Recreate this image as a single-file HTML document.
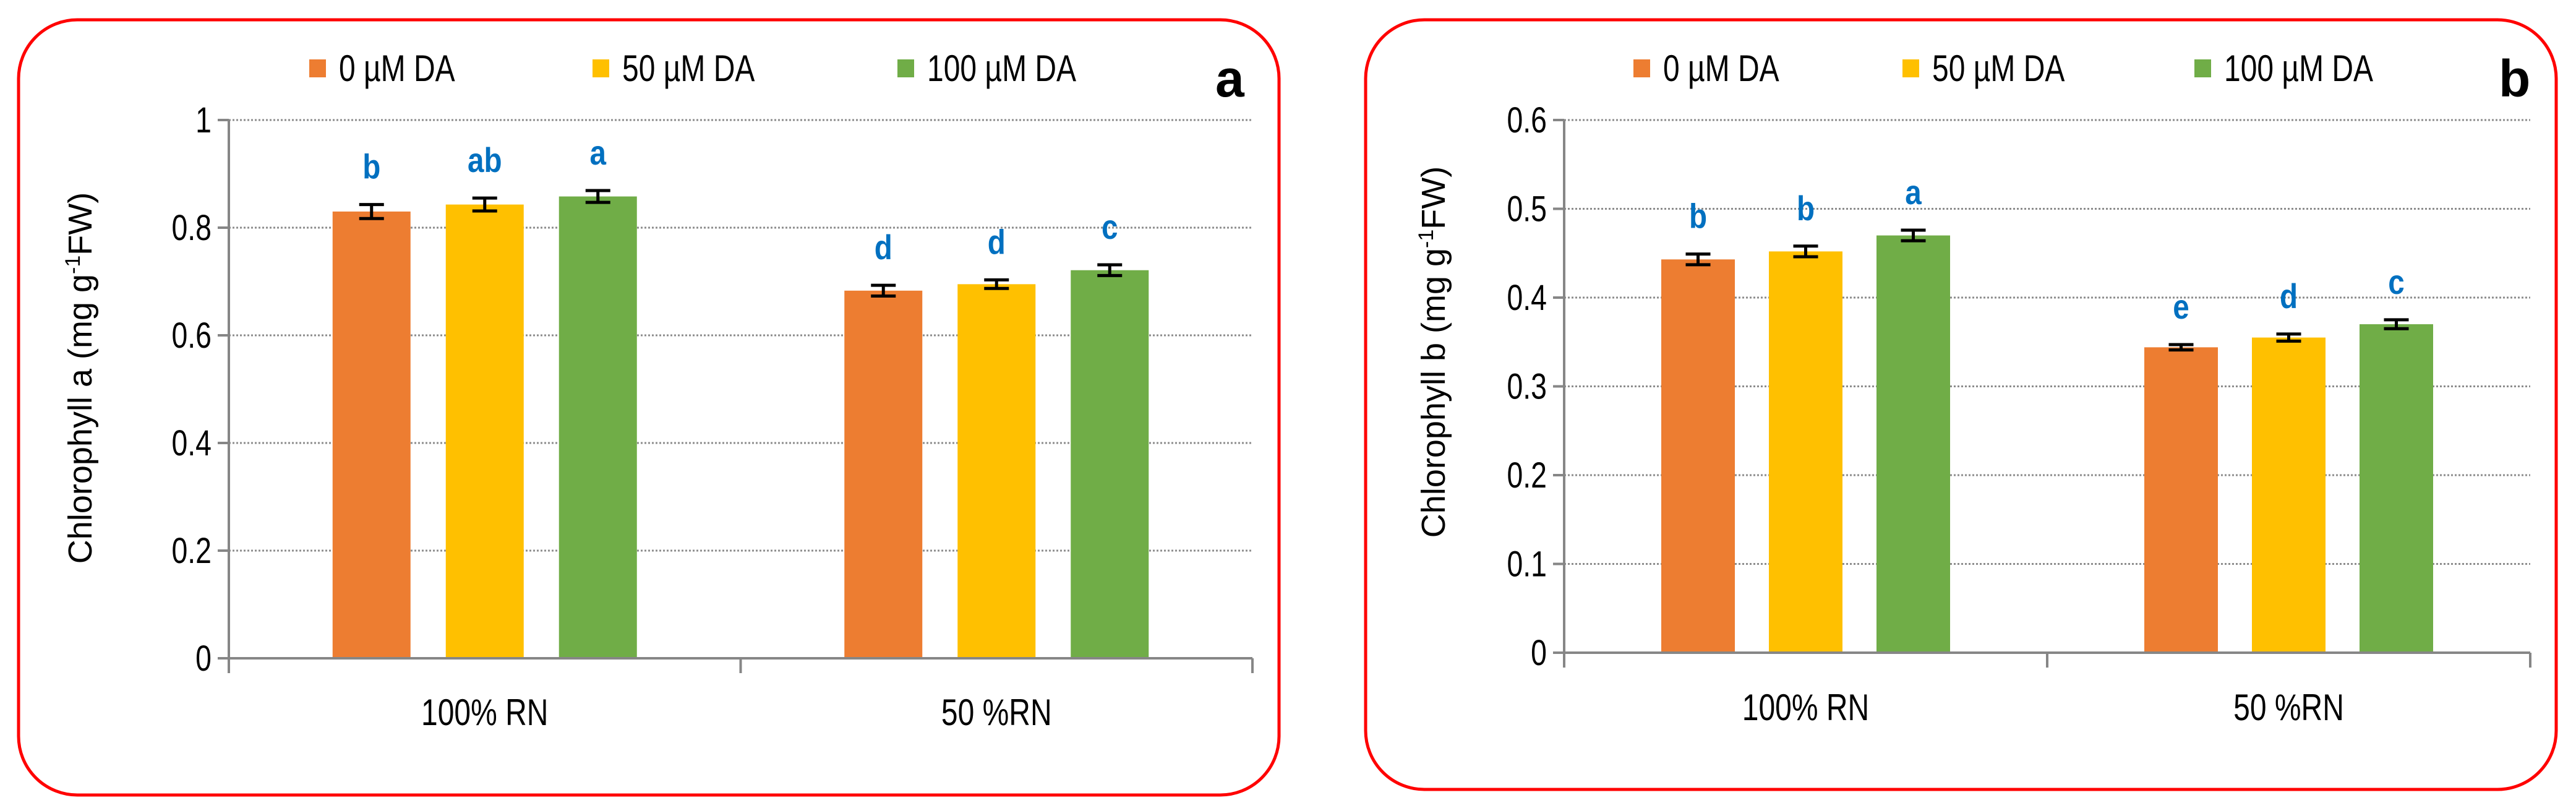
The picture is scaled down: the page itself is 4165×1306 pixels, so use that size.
<!DOCTYPE html>
<html><head><meta charset="utf-8"><style>
html,body{margin:0;padding:0;background:#fff}
svg{display:block}
text{font-family:"Liberation Sans",sans-serif}
</style></head><body>
<svg id="fig" xmlns="http://www.w3.org/2000/svg" width="4165" height="1306" viewBox="0 0 4165 1306">
<g id="pa"></g>
<g id="pb"></g>
</svg>
<script>
const categories = ["100% RN", "50 %RN"];
const seriesNames = ["0 µM DA", "50 µM DA", "100 µM DA"];
const colors = ["#ED7D31", "#FFC000", "#70AD47"];
const chlA = [[0.830, 0.843, 0.858], [0.683, 0.695, 0.721]];
const chlAErr = [[0.013, 0.012, 0.011], [0.010, 0.008, 0.010]];
const chlALetters = [["b", "ab", "a"], ["d", "d", "c"]];
const chlATicks = ["0", "0.2", "0.4", "0.6", "0.8", "1"];
const chlB = [[0.443, 0.452, 0.470], [0.344, 0.355, 0.370]];
const chlBErr = [[0.006, 0.006, 0.006], [0.003, 0.004, 0.005]];
const chlBLetters = [["b", "b", "a"], ["e", "d", "c"]];
const chlBTicks = ["0", "0.1", "0.2", "0.3", "0.4", "0.5", "0.6"];

const NS = "http://www.w3.org/2000/svg";
function mk(parent, tag, attrs, txt) {
  const e = document.createElementNS(NS, tag);
  for (const k in attrs) e.setAttribute(k, attrs[k]);
  if (txt !== undefined) e.textContent = txt;
  parent.appendChild(e);
  return e;
}
function ntext(parent, x, y, attrs, txt, sx) {
  attrs.x = 0; attrs.y = 0;
  attrs.transform = `translate(${x},${y}) scale(${sx || 0.8},1)`;
  return mk(parent, "text", attrs, txt);
}

function drawPanel(g, cfg) {
  const b = mk(g, "rect", {x: cfg.bx0, y: cfg.by0, width: cfg.bx1 - cfg.bx0, height: cfg.by1 - cfg.by0, rx: 95, ry: 95, fill: "#fff", stroke: "#FF0000", "stroke-width": 5});
  
  
  const x0 = cfg.x0, x1 = cfg.x1, yTop = cfg.yTop, yZero = cfg.yZero;
  const ymax = parseFloat(cfg.ticks[cfg.ticks.length - 1]);
  const yS = v => yZero - (v / ymax) * (yZero - yTop);
  const catW = (x1 - x0) / categories.length;
  cfg.ticks.forEach(t => {
    const y = yS(parseFloat(t));
    if (parseFloat(t) > 0) {
      const gl = mk(g, "line", {x1: x0, x2: x1, y1: y, y2: y, stroke: "#8c8c8c", "stroke-width": 3, "stroke-dasharray": "3,3"});
      
      
    }
    const tk = mk(g, "line", {x1: x0 - 18, x2: x0, y1: y, y2: y, stroke: "#868686", "stroke-width": 4});
    
    
    const tl = ntext(g, x0 - 28, y + 20, {"text-anchor": "end", "font-size": 58, fill: "#000"}, t);
    
    
  });
  const bw = cfg.barW, step = cfg.step;
  categories.forEach((c, ci) => {
    const cx = x0 + catW * (ci + 0.5);
    cfg.values[ci].forEach((v, si) => {
      const bx = cx + (si - 1) * step - bw / 2;
      const r = mk(g, "rect", {x: bx, y: yS(v), width: bw, height: yZero - yS(v), fill: colors[si]});
      
      
      const mx = bx + bw / 2, e = cfg.errs[ci][si];
      const eg = mk(g, "path", {d: `M${mx},${yS(v + e)}V${yS(v - e)}M${mx - 20},${yS(v + e)}H${mx + 20}M${mx - 20},${yS(v - e)}H${mx + 20}`, stroke: "#000", "stroke-width": 5, fill: "none"});
      
      
      const lt = ntext(g, mx, yS(v + e) - 42, {"text-anchor": "middle", "font-size": 56, "font-weight": "bold", fill: "#0070C0"}, cfg.letters[ci][si], 0.85);
      
      
    });
    const cl = ntext(g, cx, cfg.catY, {"text-anchor": "middle", "font-size": 60, fill: "#000"}, c);
    
    
  });
  const ya = mk(g, "line", {x1: x0, x2: x0, y1: yTop, y2: yZero, stroke: "#868686", "stroke-width": 4});
  
  
  const xa = mk(g, "line", {x1: x0 - 18, x2: x1, y1: yZero, y2: yZero, stroke: "#868686", "stroke-width": 4});
  
  
  for (let i = 0; i <= categories.length; i++) {
    const xt = x0 + catW * i;
    const t = mk(g, "line", {x1: xt, x2: xt, y1: yZero, y2: yZero + 24, stroke: "#868686", "stroke-width": 4});
    
    
  }
  const yt = mk(g, "text", {x: 0, y: 0, "text-anchor": "middle", "font-size": 54, fill: "#000", transform: `translate(${cfg.titleX},${cfg.titleY}) rotate(-90)`});
  
  
  yt.appendChild(document.createTextNode(cfg.title + " (mg g"));
  mk(yt, "tspan", {"baseline-shift": "super", "font-size": 34}, "-1");
  yt.appendChild(document.createTextNode("FW)"));
  seriesNames.forEach((n, i) => {
    const sq = mk(g, "rect", {x: cfg.legX[i], y: 96, width: 27, height: 29, fill: colors[i]});
    
    
    const lt = ntext(g, cfg.legX[i] + 48, 131, {"font-size": 60, fill: "#000"}, n);
    
    
  });
  const pl = mk(g, "text", {x: cfg.labX, y: 156, "font-size": 84, "font-weight": "bold", fill: "#000"}, cfg.label);
  
  
}

drawPanel(document.getElementById("pa"), {
  bx0: 30, bx1: 2068, by0: 32, by1: 1285,
  x0: 370, x1: 2025, yTop: 194, yZero: 1064,
  ticks: chlATicks, values: chlA, errs: chlAErr, letters: chlALetters,
  barW: 126, step: 183, catY: 1172, title: "Chlorophyll a",
  titleX: 148, titleY: 611, legX: [500, 958, 1451], labX: 1965, label: "a"
});
drawPanel(document.getElementById("pb"), {
  bx0: 2208, bx1: 4133, by0: 32, by1: 1276,
  x0: 2529, x1: 4091, yTop: 194, yZero: 1055,
  ticks: chlBTicks, values: chlB, errs: chlBErr, letters: chlBLetters,
  barW: 119, step: 174, catY: 1164, title: "Chlorophyll b",
  titleX: 2336, titleY: 569, legX: [2641, 3076, 3548], labX: 4040, label: "b"
});
</script>
</body></html>
